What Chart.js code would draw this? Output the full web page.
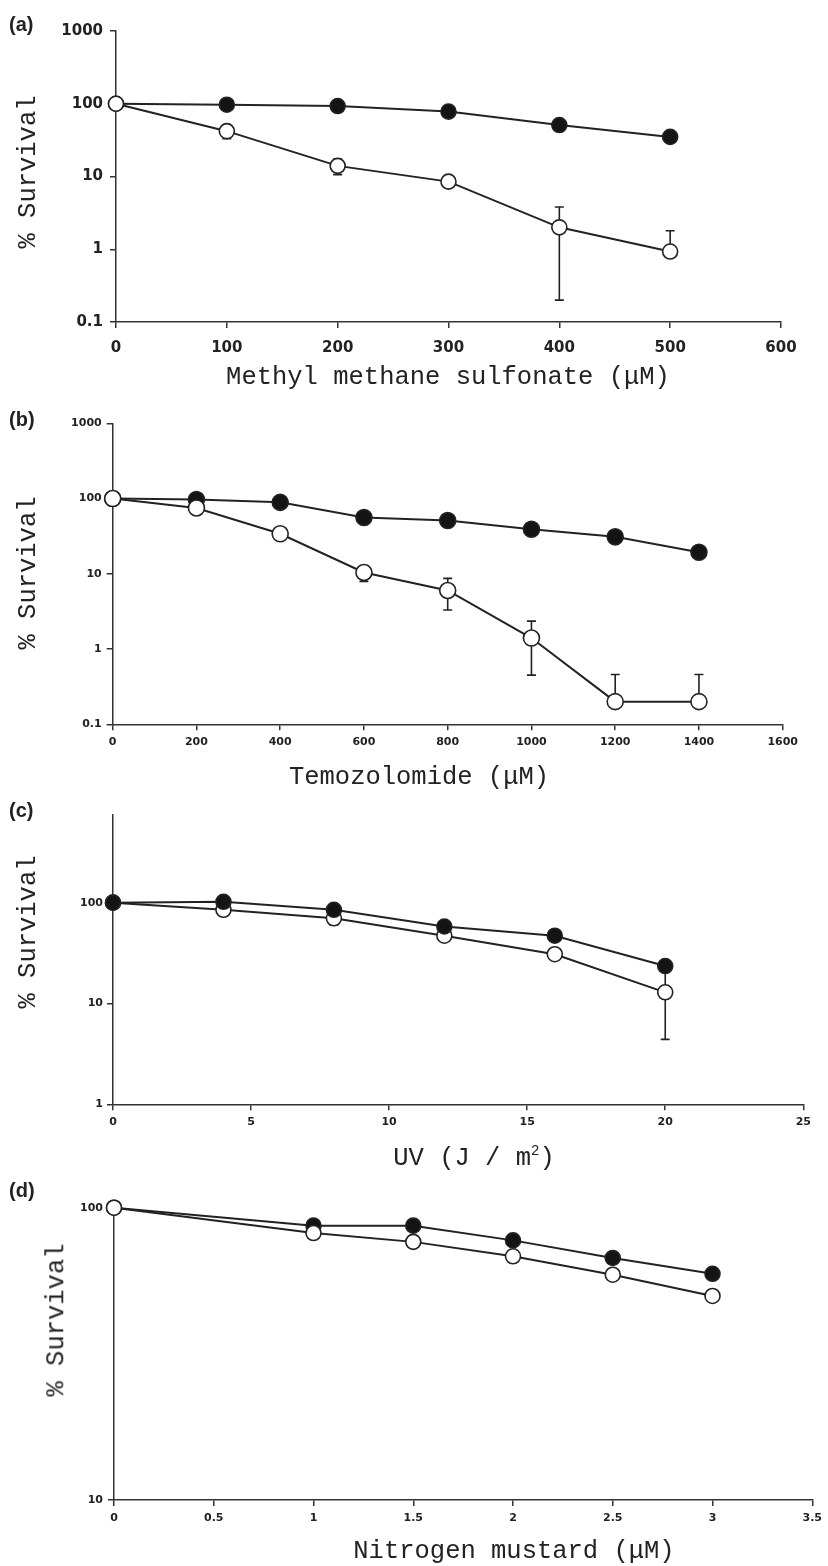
<!DOCTYPE html>
<html>
<head>
<meta charset="utf-8">
<script src="https://cdn.jsdelivr.net/npm/chart.js@4/dist/chart.umd.min.js"></script>
<style>
  html,body{margin:0;padding:0;background:#fff;}
  body{width:828px;height:1566px;position:relative;overflow:hidden;}
  canvas{position:absolute;left:0;}
  .t{position:absolute;white-space:nowrap;color:#222;font-family:"Liberation Mono","DejaVu Sans Mono",monospace;font-size:25.5px;line-height:1;transform:translate(-50%,-50%);}
  .ty{transform:translate(-50%,-50%) rotate(-90deg);}
  .p{position:absolute;white-space:nowrap;color:#222;font-family:"Liberation Sans",Arial,sans-serif;font-weight:bold;font-size:20px;line-height:1;transform:translateY(-50%);}
  sup{font-size:55%;vertical-align:0.75em;line-height:0;}
</style>
</head>
<body>
<canvas id="ca" width="828" height="395" style="top:0px"></canvas>
<canvas id="cb" width="828" height="395" style="top:395px"></canvas>
<canvas id="cc" width="828" height="390" style="top:790px"></canvas>
<canvas id="cd" width="828" height="386" style="top:1180px"></canvas>

<div class="p" style="left:9px;top:24px">(a)</div>
<div class="p" style="left:9px;top:419px">(b)</div>
<div class="p" style="left:9px;top:810px">(c)</div>
<div class="p" style="left:9px;top:1190px">(d)</div>

<div class="t ty" style="left:29px;top:172px">% Survival</div>
<div class="t ty" style="left:29px;top:573px">% Survival</div>
<div class="t ty" style="left:29px;top:932px">% Survival</div>
<div class="t ty" style="left:57px;top:1320px">% Survival</div>

<div class="t" style="left:448px;top:378px">Methyl methane sulfonate (μM)</div>
<div class="t" style="left:419px;top:778px">Temozolomide (μM)</div>
<div class="t" style="left:474px;top:1159px">UV (J / m<sup>2</sup>)</div>
<div class="t" style="left:514px;top:1552px">Nitrogen mustard (μM)</div>

<script>
// ---------- DATA ----------
// (a) Methyl methane sulfonate
const mmsDose   = [0, 100, 200, 300, 400, 500];
const mmsFilled = [100, 97, 93, 78, 51, 35];
const mmsOpen   = [100, 42, 14, 8.5, 2.0, 0.93];
const mmsOpenErr= [0, 9, 3.4, 0, 1.8, 0.87];
const mmsXTicks = [0, 100, 200, 300, 400, 500, 600];
const mmsYTicks = [0.1, 1, 10, 100, 1000];

// (b) Temozolomide
const tmzDose   = [0, 200, 400, 600, 800, 1000, 1200, 1400];
const tmzFilled = [100, 97, 89, 56, 51, 39, 31, 19.3];
const tmzOpen   = [100, 75, 34, 10.4, 6.0, 1.4, 0.2, 0.2];
const tmzOpenErr= [0, 0, 0, 2.5, 2.7, 0.95, 0.26, 0.26];
const tmzXTicks = [0, 200, 400, 600, 800, 1000, 1200, 1400, 1600];
const tmzYTicks = [0.1, 1, 10, 100, 1000];

// (c) UV
const uvDose    = [0, 4, 8, 12, 16, 20];
const uvFilled  = [100, 102, 85, 58, 47, 23.5];
const uvOpen    = [100, 85, 70, 47, 30.8, 12.9];
const uvOpenErr = [0, 0, 10, 0, 0, 8.5];
const uvXTicks  = [0, 5, 10, 15, 20, 25];
const uvYTicks  = [1, 10, 100];

// (d) Nitrogen mustard
const nmDose    = [0, 1, 1.5, 2, 2.5, 3];
const nmFilled  = [100, 86.8, 86.8, 77.3, 67.3, 59.4];
const nmOpen    = [100, 81.9, 76.4, 68.2, 59, 49.9];
const nmXTicks  = [0, 0.5, 1, 1.5, 2, 2.5, 3, 3.5];
const nmYTicks  = [10, 100];

// ---------- RENDERING ----------
const W = 828;
const INK = '#222';

const errorBars = {
  id: 'errorBars',
  beforeDatasetsDraw(chart) {
    const ctx = chart.ctx, xs = chart.scales.x, ys = chart.scales.y;
    chart.data.datasets.forEach(ds => {
      if (!ds.errors) return;
      ctx.save();
      ctx.strokeStyle = INK;
      ctx.lineWidth = 1.6;
      ds.data.forEach((p, i) => {
        const e = ds.errors[i];
        if (!e) return;
        const px = xs.getPixelForValue(p.x), py = ys.getPixelForValue(p.y);
        const cap = 4.5;
        ctx.beginPath();
        const hi = p.y + e, lo = p.y - e;
        if (hi <= ys.max) {
          const yh = ys.getPixelForValue(hi);
          ctx.moveTo(px, py); ctx.lineTo(px, yh);
          ctx.moveTo(px - cap, yh); ctx.lineTo(px + cap, yh);
        }
        if (lo >= ys.min) {
          const yl = ys.getPixelForValue(lo);
          ctx.moveTo(px, py); ctx.lineTo(px, yl);
          ctx.moveTo(px - cap, yl); ctx.lineTo(px + cap, yl);
        }
        ctx.stroke();
      });
      ctx.restore();
    });
  }
};

function series(xs, ys, filled, r, errs) {
  return {
    data: xs.map((x, i) => ({x: x, y: ys[i]})),
    borderColor: INK,
    borderWidth: 2,
    pointRadius: r,
    pointHoverRadius: r,
    pointBorderWidth: 1.6,
    pointBorderColor: INK,
    pointBackgroundColor: filled ? '#141414' : '#fff',
    tension: 0,
    clip: false,
    errors: errs || null
  };
}

function makePanel(id, cfg) {
  const XH = 40;
  const axisCommon = (fs, pad, ticksArr) => ({
    grid: {drawOnChartArea: false, tickLength: 6, color: '#333', lineWidth: 1.5},
    border: {color: '#333', width: 1.5},
    ticks: {
      font: {family: '"DejaVu Sans", Verdana, sans-serif', weight: 'bold', size: fs},
      color: INK, padding: pad, autoSkip: false, maxRotation: 0,
      callback: v => String(v)
    },
    afterBuildTicks: s => { s.ticks = ticksArr.map(v => ({value: v})); }
  });
  const xAx = Object.assign({type: 'linear', min: cfg.xMin, max: cfg.xMax,
    afterFit: s => { s.height = XH; }}, axisCommon(cfg.fs, cfg.xPad, cfg.xTicks));
  const yAx = Object.assign({type: 'logarithmic', min: cfg.yMin, max: cfg.yMax,
    afterFit: s => { s.width = cfg.left; }}, axisCommon(cfg.fs, cfg.yPad, cfg.yTicks));

  new Chart(document.getElementById(id), {
    type: 'line',
    data: {datasets: cfg.datasets},
    options: {
      responsive: false,
      animation: false,
      events: [],
      layout: {padding: {
        left: 0,
        right: W - cfg.right,
        top: cfg.top - cfg.canvasTop,
        bottom: cfg.canvasTop + cfg.canvasH - cfg.bottom - XH
      }},
      plugins: {legend: {display: false}, tooltip: {enabled: false}},
      scales: {x: xAx, y: yAx}
    },
    plugins: [errorBars]
  });
}

makePanel('ca', {
  canvasTop: 0, canvasH: 395, left: 116, right: 781, top: 31, bottom: 322,
  xMin: 0, xMax: 600, yMin: 0.1, yMax: 1000, fs: 15, xPad: 11, yPad: 7,
  xTicks: mmsXTicks, yTicks: mmsYTicks,
  datasets: [series(mmsDose, mmsOpen, false, 7.5, mmsOpenErr), series(mmsDose, mmsFilled, true, 7.5)]
});

makePanel('cb', {
  canvasTop: 395, canvasH: 395, left: 112.7, right: 782.7, top: 423.3, bottom: 724.3,
  xMin: 0, xMax: 1600, yMin: 0.1, yMax: 1000, fs: 11, xPad: 5, yPad: 5,
  xTicks: tmzXTicks, yTicks: tmzYTicks,
  datasets: [series(tmzDose, tmzOpen, false, 8, tmzOpenErr), series(tmzDose, tmzFilled, true, 8)]
});

makePanel('cc', {
  canvasTop: 790, canvasH: 390, left: 113, right: 803.3, top: 815, bottom: 1104.3,
  xMin: 0, xMax: 25, yMin: 1, yMax: 740, fs: 11, xPad: 5, yPad: 4,
  xTicks: uvXTicks, yTicks: uvYTicks,
  datasets: [series(uvDose, uvFilled, true, 7.5), series(uvDose, uvOpen, false, 7.5, uvOpenErr)]
});

makePanel('cd', {
  canvasTop: 1180, canvasH: 386, left: 114, right: 816, top: 1207.7, bottom: 1500,
  xMin: 0, xMax: 3.5, yMin: 10, yMax: 100, fs: 11, xPad: 6, yPad: 5,
  xTicks: nmXTicks, yTicks: nmYTicks,
  datasets: [series(nmDose, nmOpen, false, 7.5), series(nmDose, nmFilled, true, 7.5)]
});
</script>
</body>
</html>
